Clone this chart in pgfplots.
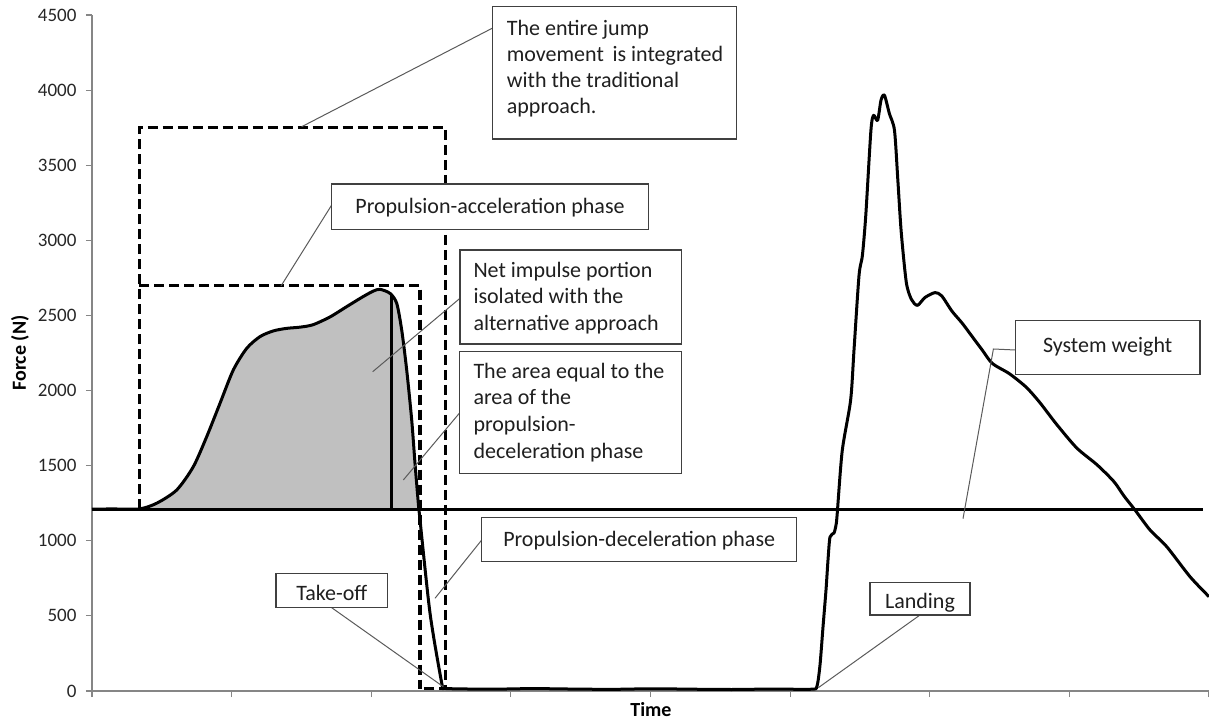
\documentclass[border=0pt]{standalone}
\usepackage{pgfplots}
\pgfplotsset{compat=1.18}
\usepackage{fontspec}
\setmainfont{Carlito}

\definecolor{axisgray}{HTML}{868686}
\definecolor{fillgray}{HTML}{C0C0C0}
\definecolor{boxline}{HTML}{404040}
\definecolor{leader}{HTML}{5A5A5A}
\definecolor{txt}{HTML}{1F1F1F}

% force-time curve: time in arbitrary units (0..1117), force in N
\pgfplotstableread{
t F
0 1210
20 1212
47.3 1212
64.7 1250
84.7 1338
101.3 1493
114.7 1693
128 1915
141.3 2137
154.7 2281
168 2359
181.3 2397
194.7 2414
208 2422
221 2438
238 2490
255 2560
271 2625
281.3 2662
288 2674
298 2647
304.7 2581
309.7 2403
314.7 2137
319.7 1804
323 1516
326.3 1250
327.3 1185
338 519
349.7 53
352 20
360 15
400 12
440 16
480 13
520 11
560 15
600 12
640 10
680 13
720 12
725 33
728 173
731 426
734 672
736 872
738 1025
742 1052
744 1105
745.1 1171
750.2 1598
758.6 1935
762 2270
767 2765
770.4 2900
773.8 3169
778.9 3731
781.6 3832
785.6 3798
789 3933
792.4 3966
797.4 3843
802.5 3731
805.9 3394
809.2 3057
814.3 2720
819.4 2607
825.4 2567
832.9 2619
843 2652
849.7 2630
859.9 2529
870 2450
880.1 2360
890.2 2270
900.4 2180
917.2 2113
934.1 2023
947.6 1922
964.5 1776
984.7 1618
1005 1506
1021.9 1394
1032 1298
1043 1205
1058 1072
1074.7 961
1098 761
1117 628
}\forcedata

\newcommand{\lbl}[3]{\node[anchor=base west, inner sep=0pt, text=txt, font=\fontsize{22}{26}\selectfont] at (#1,#2) {#3};}
\newcommand{\clbl}[3]{\node[anchor=base, inner sep=0pt, text=txt, font=\fontsize{22}{26}\selectfont] at (#1,#2) {#3};}

\begin{document}
\begin{tikzpicture}
\begin{axis}[
  at={(0,0)}, anchor=south west,
  scale only axis, width=1117pt, height=676pt,
  xmin=0, xmax=1117, ymin=0, ymax=4500,
  axis x line*=bottom, axis y line*=left,
  axis line style={axisgray, line width=1.2pt},
  xtick={0,139.625,...,1117}, xticklabels={},
  ytick={0,500,...,4500},
  tick align=outside, major tick length=6pt,
  tick style={axisgray, line width=1.2pt},
  tick label style={font=\fontsize{19}{22}\selectfont, text=black!85},
  yticklabel style={xshift=-6pt},
  /pgf/number format/assume math mode=true,
  /pgf/number format/1000 sep={},
  xlabel={Time}, ylabel={Force (N)},
  label style={font=\fontsize{20}{24}\selectfont\bfseries},
  xlabel style={at={(axis description cs:0.5004,-0.0281)}, anchor=center},
  ylabel style={at={(axis description cs:-0.0645,0.5)}, anchor=center},
]
% net impulse area (between curve and system weight)
\addplot[draw=none, fill=fillgray, smooth, tension=0.45] coordinates {
  (47.3,1212) (64.7,1250) (84.7,1338) (101.3,1493) (114.7,1693) (128,1915)
  (141.3,2137) (154.7,2281) (168,2359) (181.3,2397) (194.7,2414) (208,2422)
  (221,2438) (238,2490) (255,2560) (271,2625) (281.3,2662) (288,2674) (298,2647)
  (304.7,2581) (309.7,2403) (314.7,2137) (319.7,1804) (323,1516) (326.3,1250)
  (326.9,1210)} -- cycle;
% system weight
\addplot[black, line width=3.3pt] coordinates {(0,1210) (1110.7,1210)};
% phase boxes
\addplot[black, line width=3.3pt, dash pattern=on 10pt off 5pt, line join=miter]
  coordinates {(47.3,1210) (47.3,3750) (353.5,3750) (353.5,15) (328,15)};
\addplot[black, line width=3.3pt, dash pattern=on 10pt off 5pt, line join=miter]
  coordinates {(47.3,2700) (328,2700) (328,15)};
% force curve
\addplot[black, line width=3pt, line join=round, smooth, tension=0.45] table[x=t, y=F] {\forcedata};
% end of net impulse portion
\addplot[black, line width=3pt] coordinates {(299.7,1210) (299.7,2640)};
\end{axis}

\begin{scope}[x=1pt, y=-1pt, shift={(-92pt,691pt)}]
\begin{scope}[leader, line width=1pt]
\draw (492.7,28) -- (301.7,126.7);
\draw (331.7,205) -- (281,286);
\draw (460,298.3) -- (372.7,371.7);
\draw (459.3,413.3) -- (403.3,480);
\draw (481.7,540) -- (435,598.3);
\draw (331.7,607.7) -- (443.3,686.7);
\draw (920,615) -- (818.3,687.7);
\draw (1015.3,350) -- (993.4,349) -- (963,518.7);
\end{scope}
\begin{scope}[draw=boxline, line width=1.3pt, fill=white]
\filldraw (492.7,6.7) rectangle (736.7,139);
\filldraw (331.7,184) rectangle (648.3,229.3);
\filldraw (460,250) rectangle (681.7,344);
\filldraw (459.3,351.7) rectangle (681.7,473.3);
\filldraw (481.7,517.7) rectangle (796.7,561.7);
\filldraw (276,573.3) rectangle (387.7,607.7);
\filldraw (870,582.7) rectangle (970,615);
\filldraw (1015.3,320.6) rectangle (1199.9,374.3);
\end{scope}
\lbl{506.7}{35.5}{The entire jump}
\lbl{506.7}{61.5}{movement \,is integrated}
\lbl{506.7}{87.5}{with the traditional}
\lbl{506.7}{113.5}{approach.}
\clbl{490}{213.5}{Propulsion-acceleration phase}
\lbl{473.3}{277.3}{Net impulse portion}
\lbl{473.3}{304}{isolated with the}
\lbl{473.3}{330.7}{alternative approach}
\lbl{473.3}{378.3}{The area equal to the}
\lbl{473.3}{405}{area of the}
\lbl{473.3}{431.7}{propulsion-}
\lbl{473.3}{458.3}{deceleration phase}
\clbl{639.2}{546}{Propulsion-deceleration phase}
\clbl{331.8}{600}{Take-off}
\clbl{920}{608.5}{Landing}
\clbl{1107.6}{353}{System weight}
\end{scope}

\pgfresetboundingbox
\path[use as bounding box] (-92pt,-32pt) rectangle (1117pt,691pt);
\end{tikzpicture}
\end{document}
